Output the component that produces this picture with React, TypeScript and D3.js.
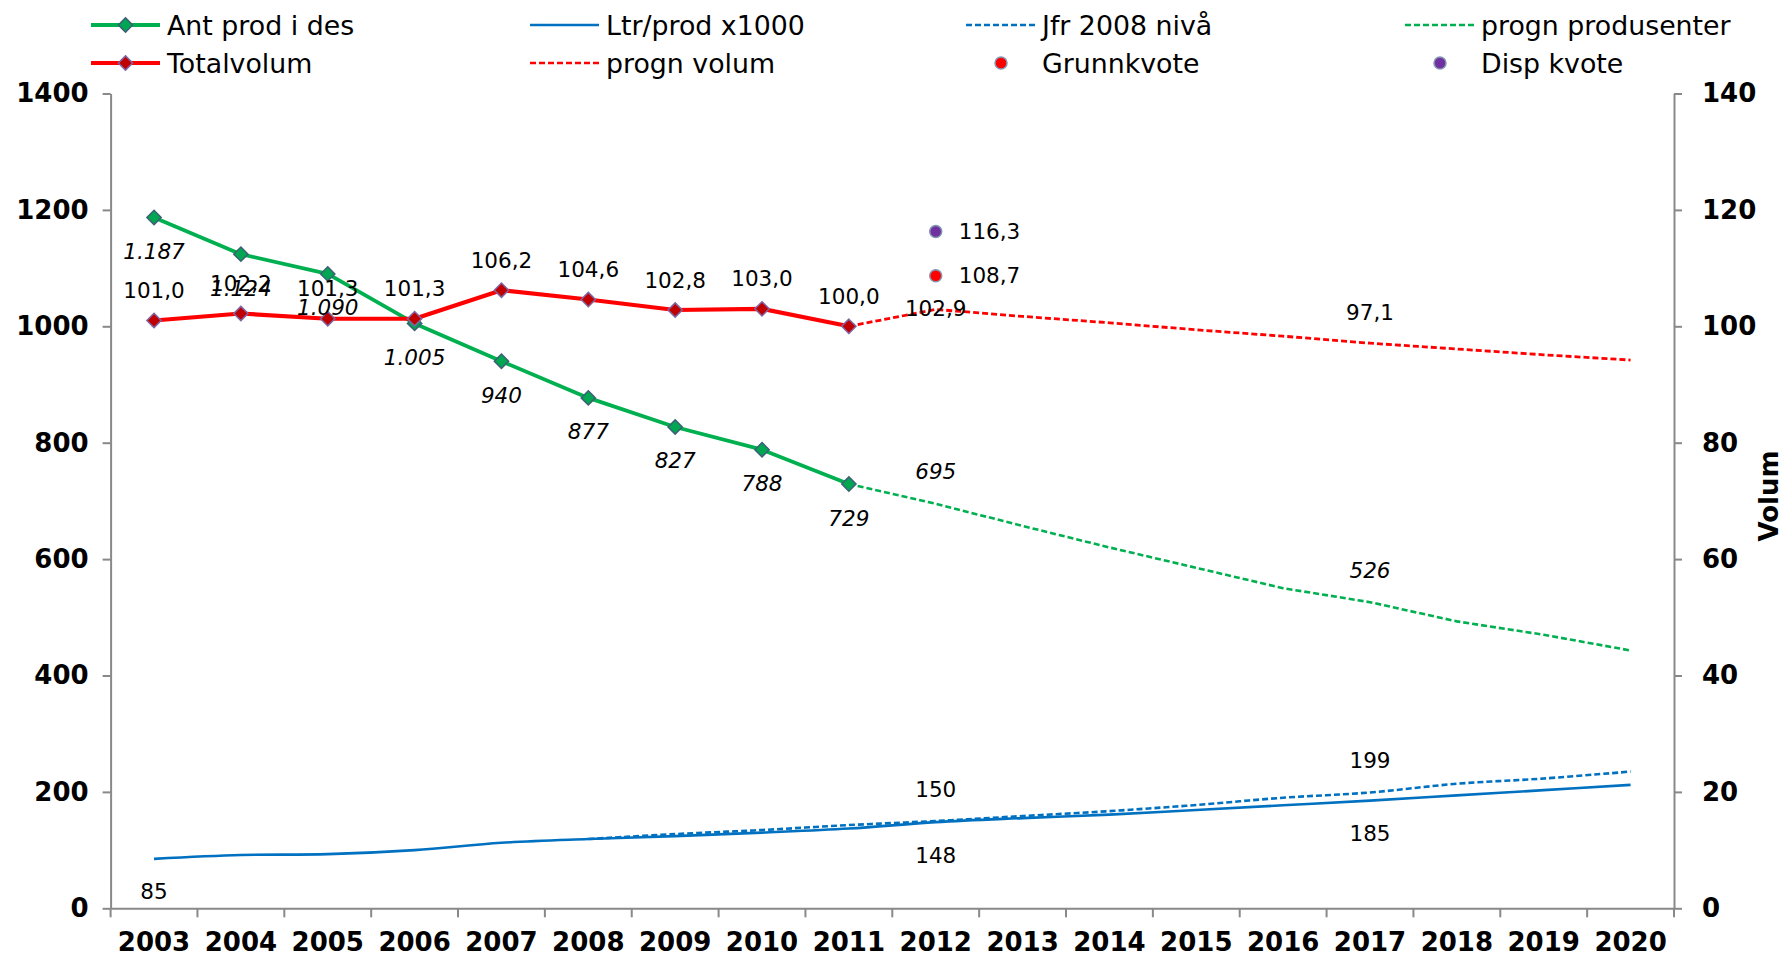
import * as d3 from 'd3';
import { useEffect, useRef } from 'react';

const width = 1787;
const height = 959;
const margin = { top: 93.5, left: 110.6, bottom: 50.7, right: 113 };

const years = [
  '2003', '2004', '2005', '2006', '2007', '2008', '2009', '2010', '2011',
  '2012', '2013', '2014', '2015', '2016', '2017', '2018', '2019', '2020',
];
const antProd = [1187, 1124, 1090, 1005, 940, 877, 827, 788, 729];
const prognProd = [729, 695, 657, 620, 585, 550, 526, 493, 470, 443];
const totalVolum = [101.0, 102.2, 101.3, 101.3, 106.2, 104.6, 102.8, 103.0, 100.0];
const prognVolum = [100.0, 102.9, 101.7, 100.6, 99.4, 98.3, 97.1, 96.1, 95.1, 94.2];
const ltrProd = [
  85, 91.5, 93, 100, 112.5, 119, 124, 130, 137, 148, 155, 161, 169, 177, 185, 194, 203, 212,
];
const jfr2008 = [119, 127.5, 134.5, 143, 150, 158.5, 167, 177.5, 190, 199, 214, 223, 235];
const grunnkvote = 108.7;
const dispKvote = 116.3;
const leftTicks = [0, 200, 400, 600, 800, 1000, 1200, 1400];
const rightTicks = [0, 20, 40, 60, 80, 100, 120, 140];

const font = '"DejaVu Sans", Verdana, sans-serif';
const green = '#00b050';
const red = '#ff0000';
const blue = '#0070c0';
const purple = '#7030a0';

type Pt = { year: string; value: number };
const pts = (vals: number[], start: number): Pt[] =>
  vals.map((v, i) => ({ year: years[start + i], value: v }));

const fmtInt = (v: number) => (v >= 1000 ? d3.format(',')(v).replace(',', '.') : String(v));
const fmtDec = (v: number) => v.toFixed(1).replace('.', ',');

function App() {
  const ref = useRef<HTMLDivElement>(null);

  useEffect(() => {
    const wrapper = d3.select(ref.current);
    const svg = wrapper
      .append('svg')
      .attr('width', width)
      .attr('height', height)
      .style('position', 'absolute')
      .style('left', 0)
      .style('top', 0)
      .style('font-family', font);

    const x = d3
      .scaleBand()
      .domain(years)
      .range([margin.left, width - margin.right])
      .padding(0);
    const cx = (y: string) => (x(y) || 0) + x.bandwidth() / 2;
    const yL = d3.scaleLinear().domain([0, 1400]).range([height - margin.bottom, margin.top]);
    const yR = d3.scaleLinear().domain([0, 140]).range([height - margin.bottom, margin.top]);
    const bottom = height - margin.bottom;

    // axes
    const gl = svg
      .append('g')
      .attr('transform', `translate(${margin.left},0)`)
      .call(
        d3
          .axisLeft(yL)
          .tickValues(leftTicks)
          .tickFormat(d3.format('d'))
          .tickSize(8)
          .tickPadding(14)
          .tickSizeOuter(0)
      );
    const gr = svg
      .append('g')
      .attr('transform', `translate(${width - margin.right},0)`)
      .call(d3.axisRight(yR).tickValues(rightTicks).tickSize(8).tickPadding(20).tickSizeOuter(0));
    const gb = svg
      .append('g')
      .attr('transform', `translate(0,${bottom})`)
      .call(d3.axisBottom(x).tickSize(0).tickPadding(24).tickSizeOuter(0));
    [gl, gr, gb].forEach((g) => {
      g.select('.domain').attr('stroke', '#898989').attr('stroke-width', 2);
      g.selectAll('.tick line').attr('stroke', '#898989').attr('stroke-width', 2);
      g.selectAll('.tick text')
        .attr('font-family', font)
        .attr('font-size', 26)
        .attr('font-weight', 'bold')
        .attr('fill', '#000');
    });
    svg
      .append('g')
      .selectAll('line')
      .data([...years, null])
      .join('line')
      .attr('x1', (d) => (d ? x(d) || 0 : width - margin.right))
      .attr('x2', (d) => (d ? x(d) || 0 : width - margin.right))
      .attr('y1', bottom)
      .attr('y2', bottom + 9)
      .attr('stroke', '#898989')
      .attr('stroke-width', 2);

    svg
      .append('text')
      .attr('transform', `translate(1769,496) rotate(-90)`)
      .attr('text-anchor', 'middle')
      .attr('dominant-baseline', 'central')
      .attr('font-size', 26)
      .attr('font-weight', 'bold')
      .text('Volum');

    const lineL = d3.line<Pt>().x((d) => cx(d.year)).y((d) => yL(d.value));
    const lineR = d3.line<Pt>().x((d) => cx(d.year)).y((d) => yR(d.value));
    const smoothL = d3
      .line<Pt>()
      .x((d) => cx(d.year))
      .y((d) => yL(d.value))
      .curve(d3.curveCatmullRom);

    const path = (d: string | null, color: string, w: number, dash?: string) =>
      svg
        .append('path')
        .attr('d', d)
        .attr('fill', 'none')
        .attr('stroke', color)
        .attr('stroke-width', w)
        .attr('stroke-dasharray', dash || null)
        .attr('stroke-linejoin', 'round');

    path(smoothL(pts(ltrProd, 0)), blue, 2.6);
    path(smoothL(pts(jfr2008, 5)), blue, 2.6, '6 3');
    path(lineL(pts(prognProd, 8)), green, 2.6, '6 3');
    path(lineR(pts(prognVolum, 8)), red, 2.8, '6 3');
    path(lineL(pts(antProd, 0)), green, 3.8);
    path(lineR(pts(totalVolum, 0)), red, 4.2);

    const diamond = d3.symbol().type(d3.symbolDiamond2).size(130);
    const markers = (data: Pt[], sc: d3.ScaleLinear<number, number>, fill: string, stroke: string) =>
      svg
        .append('g')
        .selectAll('path')
        .data(data)
        .join('path')
        .attr('d', diamond)
        .attr('transform', (d) => `translate(${cx(d.year)},${sc(d.value)})`)
        .attr('fill', fill)
        .attr('stroke', stroke)
        .attr('stroke-width', 1.5);
    markers(pts(antProd, 0), yL, '#00a651', '#3c6175');
    markers(pts(totalVolum, 0), yR, '#c00000', '#8064a2');

    // quota dots
    [
      { v: grunnkvote, c: red },
      { v: dispKvote, c: purple },
    ].forEach((q) => {
      svg
        .append('circle')
        .attr('cx', cx('2012'))
        .attr('cy', yR(q.v))
        .attr('r', 6)
        .attr('fill', q.c)
        .attr('stroke', '#8497b0')
        .attr('stroke-width', 1.5);
      svg
        .append('text')
        .attr('x', cx('2012') + 23)
        .attr('y', yR(q.v))
        .attr('dominant-baseline', 'central')
        .attr('font-size', 21.5)
        .text(fmtDec(q.v));
    });

    // data labels
    const label = (
      data: Pt[],
      sc: d3.ScaleLinear<number, number>,
      dy: number,
      fmt: (v: number) => string,
      italic = false
    ) =>
      svg
        .append('g')
        .selectAll('text')
        .data(data)
        .join('text')
        .attr('x', (d) => cx(d.year))
        .attr('y', (d) => sc(d.value) + dy)
        .attr('text-anchor', 'middle')
        .attr('dominant-baseline', 'central')
        .attr('font-size', 21.5)
        .attr('font-style', italic ? 'italic' : 'normal')
        .text((d) => fmt(d.value));

    label(pts(antProd, 0), yL, 34, fmtInt, true);
    label(pts(totalVolum, 0), yR, -30, fmtDec);
    const pick = (vals: number[], start: number, ys: string[]) =>
      pts(vals, start).filter((d) => ys.includes(d.year));
    label(pick(prognProd, 8, ['2012', '2017']), yL, -32, fmtInt, true);
    label(pick(prognVolum, 8, ['2012']), yR, -1, fmtDec);
    label(pick(prognVolum, 8, ['2017']), yR, -31, fmtDec);
    label(pick(ltrProd, 0, ['2003', '2012', '2017']), yL, 33, fmtInt);
    label(pick(jfr2008, 5, ['2012', '2017']), yL, -32, fmtInt);

    // legend
    const legend = [
      { name: 'Ant prod i des', x: 91, y: 25, color: green, w: 3.8, mk: ['#00a651', '#3c6175'] },
      { name: 'Totalvolum', x: 91, y: 63, color: red, w: 4.2, mk: ['#c00000', '#8064a2'] },
      { name: 'Ltr/prod x1000', x: 530, y: 25, color: blue, w: 2.6 },
      { name: 'progn volum', x: 530, y: 63, color: red, w: 2.6, dash: '6 3' },
      { name: 'Jfr 2008 nivå', x: 966, y: 25, color: blue, w: 2.6, dash: '6 3' },
      { name: 'Grunnkvote', x: 966, y: 63, dot: red },
      { name: 'progn produsenter', x: 1405, y: 25, color: green, w: 2.6, dash: '6 3' },
      { name: 'Disp kvote', x: 1405, y: 63, dot: purple },
    ];
    const lg = svg.append('g');
    legend.forEach((l) => {
      if (l.dot) {
        lg.append('circle')
          .attr('cx', l.x + 35)
          .attr('cy', l.y)
          .attr('r', 6)
          .attr('fill', l.dot)
          .attr('stroke', '#8497b0')
          .attr('stroke-width', 1.5);
      } else {
        lg.append('line')
          .attr('x1', l.x)
          .attr('x2', l.x + 69)
          .attr('y1', l.y)
          .attr('y2', l.y)
          .attr('stroke', l.color!)
          .attr('stroke-width', l.w!)
          .attr('stroke-dasharray', l.dash || null);
        if (l.mk) {
          lg.append('path')
            .attr('d', diamond)
            .attr('transform', `translate(${l.x + 34.5},${l.y})`)
            .attr('fill', l.mk[0])
            .attr('stroke', l.mk[1])
            .attr('stroke-width', 1.5);
        }
      }
      lg.append('text')
        .attr('x', l.x + 76)
        .attr('y', l.y)
        .attr('dominant-baseline', 'central')
        .attr('font-size', 26.8)
        .text(l.name);
    });

    return () => {
      wrapper.select('svg').remove();
    };
  }, []);

  return <div ref={ref}></div>;
}

export default App;
